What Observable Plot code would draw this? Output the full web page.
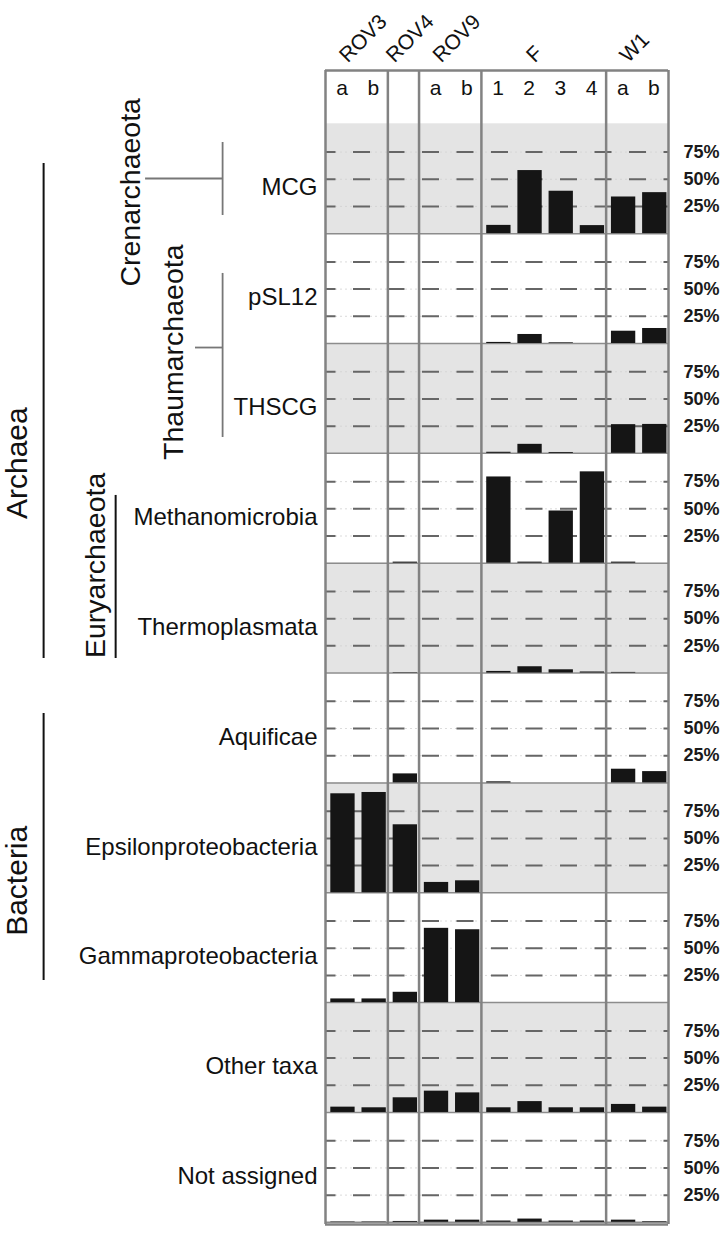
<!DOCTYPE html>
<html><head><meta charset="utf-8">
<script src="https://cdn.jsdelivr.net/npm/d3@7"></script>
<script src="https://cdn.jsdelivr.net/npm/@observablehq/plot@0.6"></script>
<style>
html,body{margin:0;padding:0;background:#fff;}
#chart svg{display:block;}
</style></head><body><div id="chart"></div>
<script>
// ---- data ----
const groups = ["ROV3", "ROV4", "ROV9", "F", "W1"];
const groupSamples = [["a", "b"], [""], ["a", "b"], ["1", "2", "3", "4"], ["a", "b"]];
const taxa = ["MCG", "pSL12", "THSCG", "Methanomicrobia", "Thermoplasmata", "Aquificae",
  "Epsilonproteobacteria", "Gammaproteobacteria", "Other taxa", "Not assigned"];
const tickValues = [25, 50, 75];
const tickLabels = ["25%", "50%", "75%"];
const domainLabels = ["Archaea", "Bacteria"];
const phylumLabels = ["Crenarchaeota", "Thaumarchaeota", "Euryarchaeota"];
// relative abundance (%) in sample order: ROV3a ROV3b ROV4 ROV9a ROV9b F1 F2 F3 F4 W1a W1b
const MCG             = [0, 0, 0, 0, 0, 7.6, 58, 39, 7.4, 33.7, 37.7];
const pSL12           = [0, 0, 0, 0, 0, 1, 8.3, 0.6, 0, 11.3, 13.8];
const THSCG           = [0, 0, 0, 0, 0, 1, 8.3, 0.8, 0, 26.4, 26.6];
const Methanomicrobia = [0, 0, 1, 0, 0, 79.3, 1, 48, 84, 1, 0];
const Thermoplasmata  = [0, 0, 0.4, 0, 0, 1.5, 5.8, 3, 1, 0.6, 0];
const Aquificae       = [0, 0, 8.3, 0, 0, 1, 0, 0, 0, 12.6, 10.4];
const Epsilonproteo   = [91, 92.2, 62.5, 9.5, 11, 0, 0, 0, 0, 0, 0];
const Gammaproteo     = [3.4, 3.4, 9.5, 68.3, 67, 0, 0, 0, 0, 0, 0];
const OtherTaxa       = [4.9, 4.3, 13.5, 19.6, 18, 4.3, 10, 4.3, 4.3, 7.4, 4.9];
const NotAssigned     = [0.4, 0.4, 0.8, 2, 2, 1.2, 3, 1.2, 1.2, 2, 0.6];
const values = [MCG, pSL12, THSCG, Methanomicrobia, Thermoplasmata, Aquificae,
  Epsilonproteo, Gammaproteo, OtherTaxa, NotAssigned];

// ---- layout (in scale units) ----
const ROW = 101, HEAD = 49, PAD = 2;
const FONT = "'Liberation Sans', Arial, Helvetica, sans-serif";

const slots = groups.flatMap((g, gi) => groupSamples[gi].map(s => ({group: g, label: s})));
slots.forEach((s, i) => s.i = i);
let start = 0;
const groupInfo = groups.map((g, gi) => {
  const n = groupSamples[gi].length;
  const o = {name: g, start, end: start + n};
  start += n;
  return o;
});
const NS = slots.length;
const boundaries = [0, ...groupInfo.map(d => d.end)];
const rows = taxa.map((t, k) => ({taxon: t, k}));
const dashes = rows.flatMap(r => tickValues.map((v, j) => ({k: r.k, v, label: tickLabels[j]})));
const bars = rows.flatMap(r => values[r.k].map((v, i) => ({k: r.k, i, v}))).filter(d => d.v > 0);
const base = k => (k + 1) * ROW;

const domainText = [
  {text: domainLabels[0], x: -9.89, y: 312},
  {text: domainLabels[1], x: -9.89, y: 696}
];
const phylumText = [
  {text: phylumLabels[0], x: -6.25, y: 63},
  {text: phylumLabels[1], x: -4.86, y: 210},
  {text: phylumLabels[2], x: -7.38, y: 406}
];
const blackLines = [
  {x: -9.04, y1: 36.5, y2: 491.6},
  {x: -9.04, y1: 542.2, y2: 787.6},
  {x: -6.73, y1: 341.7, y2: 491.6}
];
const grayV = [
  {x: -3.30, y1: 17.2, y2: 84.3},
  {x: -3.30, y1: 137.6, y2: 288.4}
];
const grayH = [
  {y: 50.3, x1: -5.77, x2: -3.30},
  {y: 205.7, x1: -4.17, x2: -3.30}
];

const chart = Plot.plot({
  width: 722,
  height: 1234,
  marginLeft: 325,
  marginRight: 54,
  marginTop: 70,
  marginBottom: 10,
  style: {fontFamily: FONT, background: "white", overflow: "visible"},
  x: {type: "linear", domain: [0, NS], axis: null},
  y: {type: "linear", domain: [-HEAD, taxa.length * ROW + PAD], reverse: true, axis: null},
  marks: [
    // alternating grey row backgrounds
    Plot.rect(rows.filter(r => r.k % 2 === 0), {
      x1: 0, x2: NS, y1: r => r.k * ROW, y2: r => base(r.k), fill: "#e4e4e4"
    }),
    // faint guide line + dashed 25/50/75% guides
    Plot.ruleY(dashes, {y: d => base(d.k) - d.v, stroke: "#d2d2d2", strokeWidth: 0.8, strokeDasharray: "2,3"}),
    Plot.ruleY(dashes, {
      y: d => base(d.k) - d.v, stroke: "#666", strokeWidth: 2,
      strokeDasharray: "17,17.5", strokeDashoffset: 6.5
    }),
    // row baselines
    Plot.ruleY(rows, {y: r => base(r.k), stroke: "#8c8c8c", strokeWidth: 1.5}),
    // bars
    Plot.rect(bars, {
      x1: d => d.i + 0.17, x2: d => d.i + 0.95,
      y1: d => base(d.k) - d.v, y2: d => base(d.k),
      fill: "#151515"
    }),
    // group separators and frame
    Plot.ruleX(boundaries, {x: d => d, y1: -HEAD, y2: taxa.length * ROW + PAD, stroke: "#828282", strokeWidth: 2.5}),
    Plot.ruleY([-HEAD, taxa.length * ROW + PAD], {stroke: "#828282", strokeWidth: 2.5}),
    // percent labels
    Plot.text(dashes, {
      x: NS, y: d => base(d.k) - d.v, text: "label", textAnchor: "start", dx: 15,
      fontSize: 18, fontWeight: "bold", fill: "#1a1a1a"
    }),
    // group headers
    Plot.text(groupInfo, {
      x: d => (d.start + d.end) / 2, y: -HEAD, text: "name", rotate: -45,
      textAnchor: "start", lineAnchor: "bottom", dx: -9, dy: -7, fontSize: 21, fill: "#111"
    }),
    // sample labels
    Plot.text(slots.filter(s => s.label), {
      x: s => s.i + 0.5, y: -HEAD, text: "label", dx: 1, dy: 17.5, fontSize: 21, fill: "#111"
    }),
    // row (class) labels
    Plot.text(rows, {
      x: 0, y: r => r.k * ROW + ROW / 2, text: "taxon", textAnchor: "end",
      dx: -8, dy: 9, fontSize: 24, fill: "#111"
    }),
    // hierarchy
    Plot.ruleX(blackLines, {x: "x", y1: "y1", y2: "y2", stroke: "#111", strokeWidth: 2}),
    Plot.ruleX(grayV, {x: "x", y1: "y1", y2: "y2", stroke: "#777", strokeWidth: 1.8}),
    Plot.ruleY(grayH, {y: "y", x1: "x1", x2: "x2", stroke: "#777", strokeWidth: 1.8}),
    Plot.text(domainText, {x: "x", y: "y", text: "text", rotate: -90, fontSize: 30, fill: "#111"}),
    Plot.text(phylumText, {x: "x", y: "y", text: "text", rotate: -90, fontSize: 28.5, fill: "#111"})
  ]
});
document.getElementById("chart").appendChild(chart);
</script>
</body></html>
